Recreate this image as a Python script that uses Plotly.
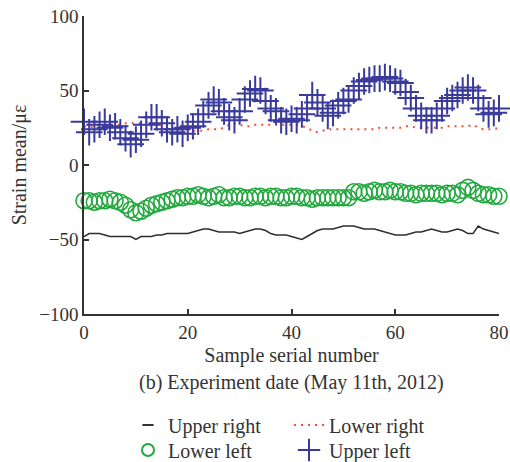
import plotly.graph_objects as go

samples = list(range(81))

upper_right = [-48, -46, -46, -46, -47, -48, -48, -48, -48, -48, -50, -48, -48, -48, -47, -47, -46, -46, -46, -46,
               -46, -45, -44, -43, -43, -44, -45, -45, -45, -45, -46, -45, -44, -43, -43, -44, -46, -47, -47, -47,
               -48, -49, -50, -48, -46, -44, -43, -43, -43, -42, -41, -41, -41, -42, -43, -43, -43, -44, -45, -46,
               -47, -47, -47, -46, -45, -45, -44, -43, -44, -45, -45, -44, -43, -44, -46, -46, -41, -43, -44, -45, -46]

lower_right = [26, 25, 26, 27, 26, 26, 27, 27, 28, 28, 28, 28, 29, 28, 27, 27, 26, 25, 24, 24,
               24, 23, 23, 23, 24, 24, 24, 25, 27, 28, 27, 26, 26, 27, 27, 27, 27, 27, 27, 27,
               27, 27, 26, 25, 23, 22, 23, 24, 24, 24, 24, 24, 24, 24, 24, 24, 24, 25, 25, 25,
               25, 25, 26, 26, 25, 25, 25, 25, 25, 25, 26, 26, 26, 26, 26, 27, 25, 24, 24, 24, 25]

lower_left = [-24, -24, -25, -24, -24, -23, -24, -25, -27, -30, -32, -31, -29, -27, -26, -25, -24, -23, -22, -22,
              -21, -21, -20, -21, -22, -21, -20, -22, -22, -21, -21, -22, -22, -21, -21, -22, -21, -21, -22, -22,
              -21, -21, -22, -22, -23, -22, -22, -22, -22, -22, -22, -22, -18, -18, -19, -18, -17, -18, -18, -17,
              -18, -18, -19, -19, -20, -19, -19, -19, -19, -20, -19, -19, -20, -17, -15, -17, -19, -20, -20, -21, -21]

upper_left = [29, 22, 24, 27, 29, 25, 26, 22, 18, 14, 17, 21, 27, 32, 32, 28, 24, 22, 24, 21,
              25, 26, 29, 34, 40, 44, 42, 36, 32, 30, 36, 44, 48, 51, 50, 43, 38, 36, 30, 29,
              31, 30, 34, 38, 47, 42, 38, 33, 35, 40, 43, 44, 50, 53, 56, 57, 58, 58, 59, 58,
              56, 55, 49, 45, 38, 33, 30, 30, 33, 38, 43, 45, 47, 50, 52, 50, 45, 38, 34, 35, 38]

x_ticks = [0, 20, 40, 60, 80]
y_ticks = [-100, -50, 0, 50, 100]
y_tick_text = ["\u2212100", "\u221250", "0", "50", "100"]

FONT = "Liberation Serif"
TXT = "#333333"

fig = go.Figure()
# Upper right: line in the plot, short dash in the legend
fig.add_trace(go.Scatter(x=samples, y=upper_right, name="Upper right", mode="lines",
                         line=dict(color="#2e2e2e", width=1.5), showlegend=False, cliponaxis=False))
fig.add_trace(go.Scatter(x=[None], y=[None], name="Upper right", mode="markers",
                         marker=dict(symbol="line-ew", size=8, color="#333333",
                                     line=dict(width=2, color="#333333")),
                         legend="legend"))
fig.add_trace(go.Scatter(x=samples, y=lower_right, name="Lower right", mode="lines",
                         line=dict(color="#f5502e", width=2, dash="2px,5px"), legend="legend2", cliponaxis=False))
fig.add_trace(go.Scatter(x=samples, y=lower_left, name="Lower left", mode="markers",
                         marker=dict(symbol="circle-open", size=16, color="#22a83e", line=dict(width=1.6)),
                         legend="legend3", cliponaxis=False))
fig.add_trace(go.Scatter(x=samples, y=upper_left, name="Upper left", mode="markers",
                         marker=dict(symbol="cross-thin", size=19, color="#3a3a9c",
                                     line=dict(width=2, color="#3a3a9c")),
                         legend="legend4", cliponaxis=False))

axis_common = dict(showgrid=False, zeroline=False, showline=True, linecolor="#333333", linewidth=1.5,
                   ticks="inside", ticklen=5, tickwidth=1.5, tickcolor="#333333", automargin=False,
                   tickfont=dict(family=FONT, size=19, color=TXT))

fig.update_xaxes(range=[0, 80], tickvals=x_ticks, ticktext=[str(v) for v in x_ticks],
                 title=dict(text="Sample serial number", font=dict(family=FONT, size=20, color=TXT), standoff=6),
                 **axis_common)
fig.update_yaxes(range=[-100, 100], tickvals=y_ticks, ticktext=y_tick_text,
                 title=dict(text="Strain mean/\u03bc\u03b5", font=dict(family=FONT, size=20, color=TXT), standoff=7),
                 **axis_common)

fig.add_annotation(text="(b) Experiment date (May 11th, 2012)", xref="paper", yref="paper",
                   x=0.5, y=-0.2315, yanchor="middle", xanchor="center", showarrow=False,
                   font=dict(family=FONT, size=20, color=TXT))

def leg(x, y, sizing="trace"):
    return dict(orientation="h", xref="container", yref="container", xanchor="left", yanchor="middle",
                x=x, y=y, bgcolor="rgba(0,0,0,0)", itemsizing=sizing,
                font=dict(family=FONT, size=20, color=TXT))

row1 = 1 - 425 / 462
row2 = 1 - 450 / 462
col1 = (150 - 22) / 510
col2 = (311 - 22) / 510

fig.update_layout(
    width=510, height=462,
    margin=dict(l=84, r=11, t=16, b=148, autoexpand=False),
    paper_bgcolor="white", plot_bgcolor="white",
    showlegend=True,
    legend=leg(col1, row1),
    legend2=leg(col2, row1),
    legend3=leg(col1, row2, "constant"),
    legend4=leg(col2, row2),
)

fig.write_html("out.html")
